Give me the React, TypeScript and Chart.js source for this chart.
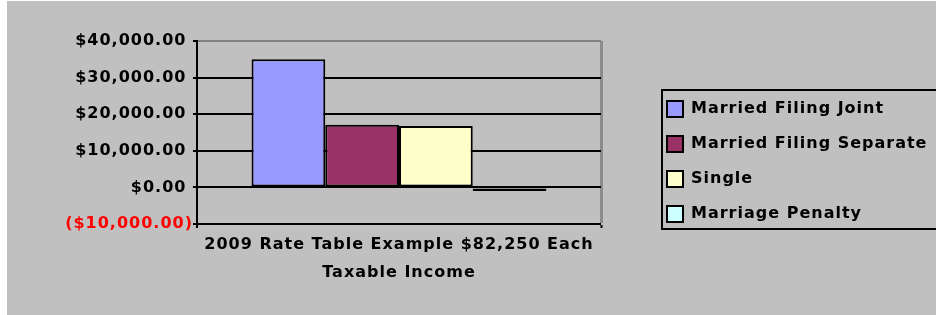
import { useEffect, useRef } from "react";
import { Chart, registerables } from "chart.js";

Chart.register(...registerables);

// ---- data ----
const categories = [["2009 Rate Table Example $82,250 Each", "Taxable Income"]];
const seriesNames = ["Married Filing Joint", "Married Filing Separate", "Single", "Marriage Penalty"];
const marriedJoint = [35000];
const marriedSeparate = [17100];
const single = [16750];
const marriagePenalty = [-1000];
const seriesColors = ["#9999FF", "#993366", "#FFFFCC", "#CCFFFF"];
const yMin = -10000;
const yMax = 40000;
const yStep = 10000;

const FONT = "'DejaVu Sans', Arial, Helvetica, sans-serif";
const LETTER_SPACING = "1px";

function fmtMoney(v: number): string {
  const s = Math.abs(v).toLocaleString("en-US", { minimumFractionDigits: 2, maximumFractionDigits: 2 });
  return v < 0 ? `($${s})` : `$${s} `;
}

function applySpacing(chart: any) {
  const c = chart.ctx as any;
  if (c && "letterSpacing" in c) c.letterSpacing = LETTER_SPACING;
}

const spacingPlugin = {
  id: "letterSpacingPlugin",
  afterInit: (chart: any) => applySpacing(chart),
  beforeUpdate: (chart: any) => applySpacing(chart),
  beforeLayout: (chart: any) => applySpacing(chart),
  beforeDraw: (chart: any) => applySpacing(chart),
};

const legendFramePlugin = {
  id: "legendFrame",
  afterDraw(chart: any) {
    const lg = chart.legend;
    const hb = lg && lg.legendHitBoxes;
    if (!hb || !hb.length) return;
    const first = hb[0];
    const last = hb[hb.length - 1];
    const ctx = chart.ctx;
    ctx.save();
    ctx.strokeStyle = "#000000";
    ctx.lineWidth = 2;
    const x = first.left - 5;
    const y = first.top - 11;
    const b = last.top + last.height + 7;
    ctx.strokeRect(x, y, chart.width + 10 - x, b - y);
    ctx.restore();
  },
};

export default function App() {
  const ref = useRef<HTMLCanvasElement | null>(null);

  useEffect(() => {
    if (!ref.current) return;
    const values = [marriedJoint, marriedSeparate, single, marriagePenalty];
    const tickFont = { family: FONT, size: 16, weight: "bold" as const };
    const chart = new Chart(ref.current, {
      type: "bar",
      data: {
        labels: categories as any,
        datasets: seriesNames.map((name, i) => ({
          label: name,
          data: values[i],
          backgroundColor: seriesColors[i],
          borderColor: "#000000",
          borderWidth: 2,
          borderSkipped: false,
          categoryPercentage: 0.73,
          barPercentage: 1.0,
          xAxisID: "x",
          yAxisID: "y",
        })),
      },
      options: {
        responsive: false,
        animation: false,
        layout: { padding: { left: 0, right: 8, top: 40, bottom: 33 } },
        plugins: {
          legend: {
            position: "right",
            align: "center",
            maxWidth: 280,
            labels: {
              boxWidth: 16,
              boxHeight: 16,
              padding: 19,
              color: "#000000",
              font: { family: FONT, size: 16, weight: "bold" },
            },
          },
          tooltip: { enabled: false },
          title: { display: false },
        },
        scales: {
          x: {
            type: "category",
            offset: true,
            grid: {
              display: true,
              offset: true,
              color: "#8C8C8C",
              lineWidth: (c: any) => (c.index === 0 ? 0 : 3),
              drawTicks: true,
              tickLength: 4,
              tickWidth: 2,
              tickColor: "#000000",
            },
            border: { display: true, color: "#000000", width: 2 },
            ticks: {
              color: "#000000",
              font: { ...tickFont, lineHeight: 1.75 },
              padding: 3,
              maxRotation: 0,
              minRotation: 0,
              autoSkip: false,
            },
            afterFit: (s: any) => {
              s.height = 58;
            },
          },
          y: {
            type: "linear",
            position: "left",
            min: yMin,
            max: yMax,
            ticks: {
              stepSize: yStep,
              padding: 0,
              color: (c: any) => (c.tick && c.tick.value < 0 ? "#FF0000" : "#000000"),
              font: tickFont,
              callback: (v: any) => fmtMoney(Number(v)),
            },
            grid: {
              color: (c: any) => (c.tick && c.tick.value === yMax ? "#808080" : "#000000"),
              lineWidth: 2,
              tickLength: 4,
              tickColor: "#000000",
            },
            border: { display: true, color: "#000000", width: 2 },
            afterFit: (s: any) => {
              s.width = 190;
            },
          },
          yGap: {
            type: "linear",
            axis: "y",
            position: "right",
            display: true,
            grid: { display: false },
            border: { display: false },
            ticks: { display: false },
            afterFit: (s: any) => {
              s.width = 47;
            },
          },
        },
      } as any,
      plugins: [spacingPlugin, legendFramePlugin],
    });
    return () => chart.destroy();
  }, []);

  return (
    <>
      <style>{`html,body{margin:0;padding:0;overflow:hidden;background:#ffffff;}`}</style>
      <div
        style={{
          position: "absolute",
          left: 7,
          top: 1,
          width: 929,
          height: 314,
          background: "#C0C0C0",
        }}
      >
        <canvas ref={ref} width={929} height={314} style={{ display: "block", width: 929, height: 314 }} />
      </div>
    </>
  );
}
